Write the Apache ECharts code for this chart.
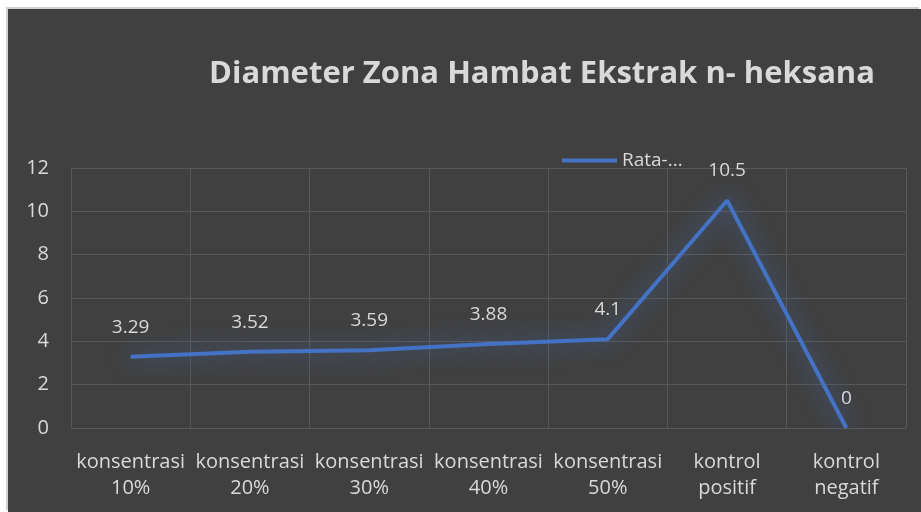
<!DOCTYPE html>
<html>
<head>
<meta charset="utf-8">
<script src="https://cdn.jsdelivr.net/npm/echarts@6/dist/echarts.min.js"></script>
<style>
    html, body {
        margin: 0;
        padding: 0;
        background: #ffffff;
    }
    #chart {
        position: absolute;
        left: 8px;
        top: 9px;
        width: 913px;
        height: 503px;
        background: #404040;
        box-shadow: -2px -2px 0 0 #d0d0d0;
    }
</style>
</head>
<body>
<div id="chart"></div>
<script>
// data
var categories = ['konsentrasi\n10%', 'konsentrasi\n20%', 'konsentrasi\n30%', 'konsentrasi\n40%',
                  'konsentrasi\n50%', 'kontrol\npositif', 'kontrol\nnegatif'];
var rataRata = [3.29, 3.52, 3.59, 3.88, 4.1, 10.5, 0];
var yTicks = [0, 2, 4, 6, 8, 10, 12];

var fontName = '"Open Sans", sans-serif';

var myChart = echarts.init(document.getElementById('chart'));
myChart.setOption({
    backgroundColor: '#404040',
    title: {
        text: 'Diameter Zona Hambat Ekstrak n- heksana',
        left: 529,
        top: 45,
        textAlign: 'center',
        textStyle: {
            color: '#d9d9d9',
            fontSize: 31,
            fontWeight: 'bold',
            fontFamily: fontName
        }
    },
    legend: {
        left: 549,
        top: 137,
        data: ['Rata-rata'],
        icon: 'rect',
        itemWidth: 55,
        itemHeight: 4,
        itemGap: 4,
        itemStyle: { color: '#4472c4', opacity: 1 },
        formatter: function () { return 'Rata-...'; },
        textStyle: {
            color: '#d9d9d9',
            fontSize: 19,
            fontFamily: fontName,
            padding: [0, 0, 0, 0]
        }
    },
    grid: {
        left: 63,
        right: 15,
        top: 159,
        bottom: 84
    },
    xAxis: {
        type: 'category',
        data: categories,
        boundaryGap: true,
        axisLine: { show: false },
        axisTick: { show: false },
        splitLine: {
            show: true,
            interval: 0,
            lineStyle: { color: '#585858', width: 1 }
        },
        axisLabel: {
            interval: 0,
            color: '#d9d9d9',
            fontSize: 20,
            lineHeight: 26,
            margin: 21,
            fontFamily: fontName
        }
    },
    yAxis: {
        type: 'value',
        min: yTicks[0],
        max: yTicks[yTicks.length - 1],
        interval: 2,
        axisLine: { show: false },
        axisTick: { show: false },
        splitLine: {
            lineStyle: { color: '#585858', width: 1 }
        },
        axisLabel: {
            color: '#d9d9d9',
            fontSize: 20,
            margin: 22,
            fontFamily: fontName
        }
    },
    series: [
        {
            name: 'Rata-rata',
            type: 'line',
            data: rataRata,
            symbol: 'circle',
            symbolSize: 0.1,
            showSymbol: true,
            itemStyle: { color: '#4472c4' },
            color: '#4472c4',
            lineStyle: {
                color: '#4472c4',
                width: 4,
                shadowColor: 'rgba(68, 114, 196, 0.85)',
                shadowBlur: 22
            },
            label: {
                show: true,
                position: 'top',
                distance: 20,
                color: '#d9d9d9',
                fontSize: 19,
                fontFamily: fontName
            }
        }
    ]
});
</script>
</body>
</html>
